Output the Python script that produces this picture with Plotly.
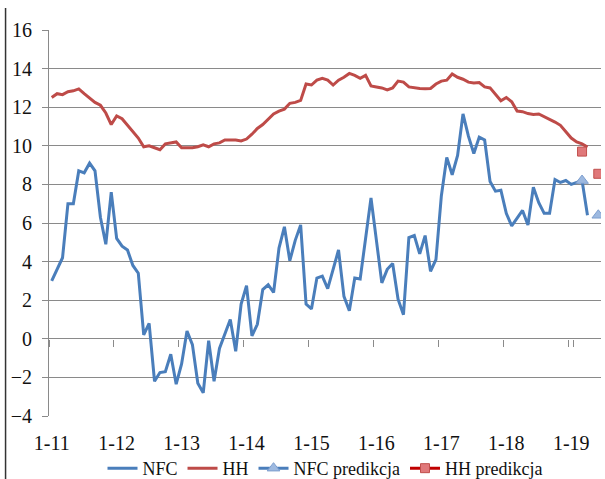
import pandas as pd
import plotly.graph_objects as go

# Categories: monthly, Jan 2011 .. Jun 2019
months = list(pd.date_range("2011-01-01", periods=102, freq="MS").strftime("%Y-%m"))
year_ticks = [m for m in months if m.endswith("-01")]
year_labels = ["1-" + m[2:4] for m in year_ticks]

nfc = [3.0, 3.6, 4.2, 7.0, 7.0, 8.7, 8.6, 9.1, 8.7, 6.3, 4.9, 7.6,
       5.2, 4.8, 4.6, 3.8, 3.4, 0.2, 0.8, -2.2, -1.75, -1.7, -0.8, -2.35,
       -1.3, 0.4, -0.3, -2.3, -2.8, -0.1, -2.2, -0.5, 0.3, 1.0, -0.65, 1.8,
       2.75, 0.15, 0.75, 2.55, 2.8, 2.4, 4.7, 5.8, 4.05, 5.1, 5.9, 1.8,
       1.55, 3.15, 3.25, 2.6, 3.6, 4.6, 2.2, 1.45, 3.15, 3.1, 5.2, 7.3,
       5.1, 2.9, 3.6, 3.9, 2.05, 1.25, 5.25, 5.35, 4.4, 5.35, 3.5, 4.1,
       7.4, 9.4, 8.5, 9.5, 11.65, 10.5, 9.6, 10.45, 10.3, 8.15, 7.65, 7.7,
       6.5, 5.85, 6.25, 6.65, 5.9, 7.85, 7.05, 6.5, 6.5, 8.25, 8.1, 8.2,
       8.0, 8.1, 8.2, 6.4]

hh = [12.5, 12.7, 12.65, 12.8, 12.85, 12.95, 12.7, 12.45, 12.25, 12.1, 11.7, 11.1,
      11.55, 11.4, 11.05, 10.7, 10.4, 9.95, 10.0, 9.9, 9.8, 10.1, 10.15, 10.2,
      9.9, 9.9, 9.9, 9.95, 10.05, 9.95, 10.1, 10.15, 10.3, 10.3, 10.3, 10.25,
      10.35, 10.6, 10.9, 11.1, 11.35, 11.65, 11.8, 11.9, 12.2, 12.25, 12.35, 13.2,
      13.15, 13.4, 13.5, 13.4, 13.15, 13.4, 13.55, 13.75, 13.65, 13.5, 13.65, 13.1,
      13.05, 13.0, 12.9, 13.0, 13.35, 13.3, 13.05, 13.0, 12.97, 12.95, 12.97, 13.2,
      13.35, 13.4, 13.72, 13.55, 13.45, 13.3, 13.25, 13.28, 13.05, 13.0, 12.68, 12.33,
      12.5, 12.28, 11.8, 11.77, 11.67, 11.62, 11.65, 11.52, 11.35, 11.23, 11.06, 10.72,
      10.4, 10.2, 10.1, 9.93]

pred_months = ["2019-03", "2019-04", "2019-05", "2019-06"]
nfc_pred = [8.2, None, None, 6.4]
hh_pred = [9.7, None, None, 8.55]

FONT = "Liberation Serif"
FS = 20
GRID = "#8a8a8a"
TXT = "#111111"

fig = go.Figure()
fig.add_trace(go.Scatter(x=months[:len(nfc)], y=nfc, name="NFC", mode="lines",
                         line=dict(color="#4A7EBB", width=3)))
fig.add_trace(go.Scatter(x=months[:len(hh)], y=hh, name="HH", mode="lines",
                         line=dict(color="#BE4B48", width=3)))
fig.add_trace(go.Scatter(x=pred_months, y=nfc_pred, name="NFC predikcja", mode="lines+markers",
                         connectgaps=False,
                         line=dict(color="#4A7EBB", width=3),
                         marker=dict(symbol="triangle-up", size=11, color="#9DB9E0",
                                     line=dict(color="#7E9FCF", width=1))))
fig.add_trace(go.Scatter(x=pred_months, y=hh_pred, name="HH predikcja", mode="lines+markers",
                         connectgaps=False,
                         line=dict(color="#C00000", width=3),
                         marker=dict(symbol="square", size=9, color="#E0787A",
                                     line=dict(color="#C0504D", width=1))))
# helper trace so the crossing axis (tick marks on the zero line) is drawn
fig.add_trace(go.Scatter(x=[months[0]], y=[None], xaxis="x2", showlegend=False,
                         hoverinfo="skip", mode="lines"))

fig.update_layout(
    width=605, height=479,
    margin=dict(l=49, r=4, t=30, b=63, autoexpand=False),
    paper_bgcolor="white", plot_bgcolor="white",
    font=dict(family=FONT, size=FS, color=TXT),
    showlegend=True,
    legend=dict(orientation="h", x=0.5, xanchor="center", y=-0.088, yanchor="top",
                font=dict(family=FONT, size=18, color=TXT),
                itemwidth=30, tracegroupgap=0, bgcolor="rgba(0,0,0,0)"),
    xaxis=dict(type="category", categoryorder="array", categoryarray=months,
               range=[-0.5, len(months) - 0.5], automargin=False,
               tickmode="array", tickvals=year_ticks, ticktext=year_labels,
               showgrid=False, showline=False, zeroline=False,
               ticks="outside", ticklen=9, tickcolor="rgba(0,0,0,0)",
               tickfont=dict(family=FONT, size=FS, color=TXT)),
    xaxis2=dict(type="category", categoryorder="array", categoryarray=months,
                overlaying="x", anchor="free", position=0.2, automargin=False,
                range=[-0.5, len(months) - 0.5],
                tickmode="array", tickvals=year_ticks, tickson="boundaries",
                showticklabels=False, showgrid=False, showline=False, zeroline=False,
                ticks="outside", ticklen=7, tickcolor=GRID, tickwidth=1),
    yaxis=dict(range=[-4, 16], dtick=2, tick0=0, automargin=False,
               showgrid=True, gridcolor=GRID, gridwidth=1,
               zeroline=False, showline=True, linecolor=GRID, linewidth=1,
               ticks="outside", ticklen=6, tickcolor=GRID,
               ticklabelstandoff=6,
               tickfont=dict(family=FONT, size=FS, color=TXT)),
    shapes=[dict(type="line", xref="paper", yref="paper",
                 x0=-0.0787, x1=-0.0787, y0=1.057, y1=-0.2,
                 line=dict(color="#333333", width=1.5))],
)

fig.write_html("out.html")
